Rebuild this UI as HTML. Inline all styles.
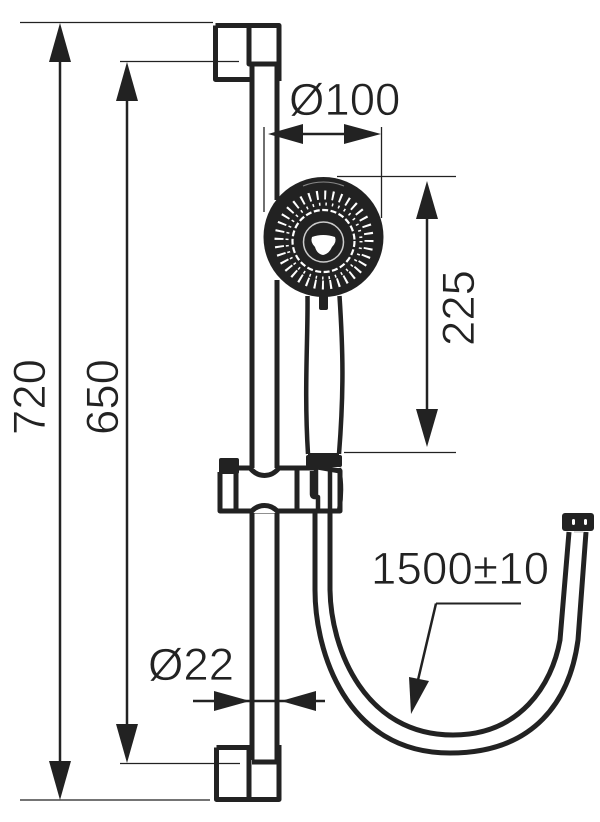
<!DOCTYPE html>
<html><head><meta charset="utf-8"><style>
html,body{margin:0;padding:0;background:#fff}
svg{display:block}
text{font-family:"Liberation Sans",sans-serif;font-size:45.500px;fill:#222;stroke:#fff;stroke-width:.7px}
</style></head><body>
<svg width="600" height="822" viewBox="0 0 600 822" xmlns="http://www.w3.org/2000/svg">
<g fill="none" stroke="#222" stroke-linejoin="round">
<!-- rail -->
<path d="M252 64V468M277 64V200M277 280V468M252 512V760M277 512V760" stroke-width="5"/>
<!-- top bracket -->
<path d="M215.500 25.500H279V81M215.500 25.500V79.500H252M249 25V64H279" stroke-width="5"/>
<!-- bottom bracket -->
<path d="M216.500 747.500H252M279 745V799.500H216.500V747.500M249 747V799M252 762H279" stroke-width="5"/>
<!-- extension lines -->
<path d="M20 22.500H213M120 61.500H239M120 763.500H240M20 800H210" stroke-width="1.300"/>
<path d="M264 127V212M381.500 127V218M337 176.500H456M344 452.500H456" stroke-width="1.300"/>
<!-- handle -->
<path d="M307.500 296C308 340 304 390 308 454M339.500 296C343 350 344 390 339 454" stroke-width="4.500"/>
<path d="M308 455H339" stroke-width="4"/>
<!-- hose -->
<path d="M315 512V590C315 650 345 753 450 753C535 753 570 700 578 640L586 532" stroke-width="5"/>
<path d="M330 512V590C331 650 365 735 453 735C520 735 552 685 560 640L569 532" stroke-width="5"/>
<!-- clamp -->
<path d="M220 472V511H340V471L317 467M238 468H250C258 478 271 478 279 468H317M236 472V511M297 470V511" stroke-width="5"/>
<path d="M250 513C258 503 271 503 279 513" stroke-width="5" fill="#fff"/>
<path d="M312 471V494Q312 497 315 497H318V511M339 468Q343 490 339 511M316 467V497M330 466V511M315 511V515M330 511V515" stroke-width="4.500"/>
</g>
<rect x="219" y="458" width="20" height="16" rx="2" fill="#222"/>
<rect x="306" y="455" width="36" height="12" rx="2" fill="#222"/>
<!-- head -->
<circle cx="323.500" cy="237" r="60" fill="#222"/>
<path d="M303 186A55 55 0 0 1 344 186" fill="none" stroke="#888" stroke-width="1"/>
<circle cx="324" cy="240" r="45" fill="none" stroke="#fff" stroke-width="9" stroke-dasharray="2 5.850"/>
<circle cx="324" cy="241" r="37" fill="none" stroke="#fff" stroke-width="3" stroke-dasharray="1.500 5"/>
<circle cx="323.500" cy="241" r="31" fill="none" stroke="#fff" stroke-width="2.200" stroke-dasharray="6 2.500"/>
<circle cx="323.500" cy="242" r="20" fill="none" stroke="#ccc" stroke-width="1.500"/>
<path d="M312 237Q323 233 335 237Q337 242 332 247Q329 254 323 255Q317 254 315 247Q310 242 312 237Z" fill="#fff"/>
<rect x="319" y="295" width="9" height="15" rx="2" fill="#222"/>
<!-- connector -->
<rect x="562" y="513" width="32" height="18" rx="3" fill="#222"/>
<rect x="572" y="519" width="3" height="6" rx="1.500" fill="#fff"/>
<rect x="584" y="519" width="3" height="6" rx="1.500" fill="#fff"/>
<rect x="574" y="531" width="9" height="2" fill="#ddd"/>
<!-- dimension lines -->
<g fill="none" stroke="#222" stroke-width="2.500">
<path d="M60 50V780M127 90V740M427 210V420M300 134H345M193 701H325"/>
<path d="M436 603.500H521" stroke-width="2"/>
<path d="M436 603.500L418 680" stroke-width="2.500"/>
</g>
<g fill="#222">
<path d="M60 23L71 62H49Z"/><path d="M60 800L71 761H49Z"/>
<path d="M127 62L138 101H116Z"/><path d="M127 763L138 724H116Z"/>
<path d="M427 181L438 219H416Z"/><path d="M427 447L438 409H416Z"/>
<path d="M268 134L303 124V144Z"/><path d="M381 134L344 124V144Z"/>
<path d="M250 701L214 691V711Z"/><path d="M281 701L316 691V711Z"/>
<path d="M411 714L409 677L429 681Z"/>
</g>
<!-- labels -->
<text x="289" y="115">Ø100</text>
<text x="371" y="584" textLength="178" lengthAdjust="spacing">1500±10</text>
<text x="148" y="680">Ø22</text>
<text transform="translate(45 397) rotate(-90)" text-anchor="middle">720</text>
<text transform="translate(118 397) rotate(-90)" text-anchor="middle">650</text>
<text transform="translate(474 308) rotate(-90)" text-anchor="middle">225</text>
</svg>
</body></html>
